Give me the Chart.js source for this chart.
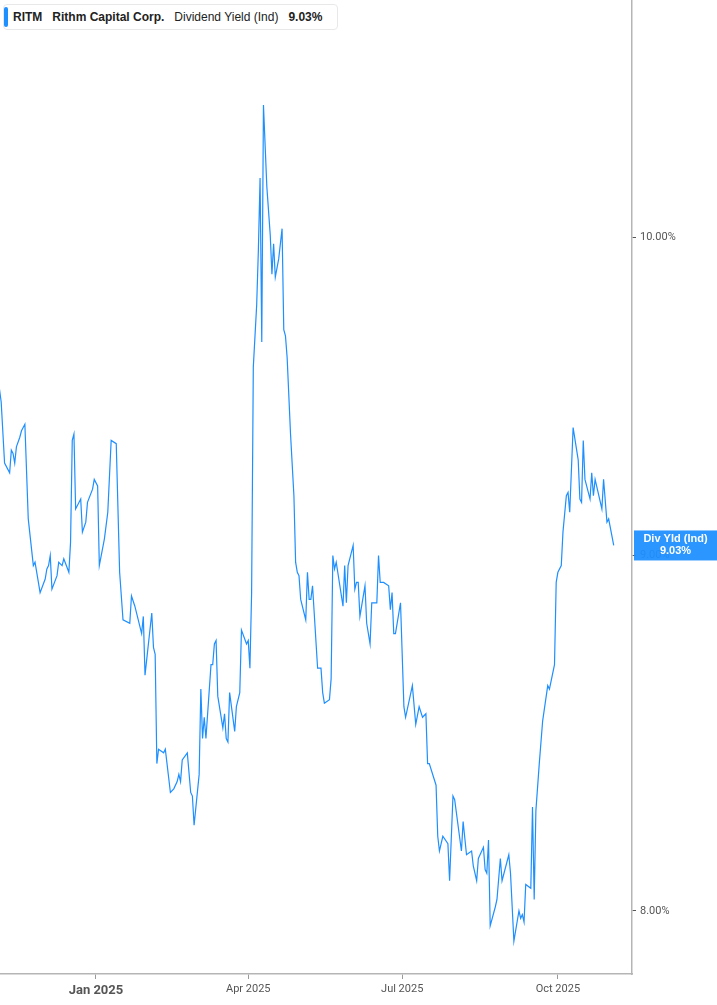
<!DOCTYPE html>
<html>
<head>
<meta charset="utf-8">
<script src="https://cdn.jsdelivr.net/npm/chart.js@4.4.1/dist/chart.umd.min.js"></script>
<style>
  html, body { margin: 0; padding: 0; background: #fff; }
  #wrap { position: relative; width: 717px; height: 1005px; }
  #legend {
    position: absolute; left: 3px; top: 4px; height: 26px; width: 335px;
    box-sizing: border-box; border: 1px solid #e8e8e8; border-radius: 4px;
    background: #fff; font-family: "Liberation Sans", Arial, sans-serif;
    font-size: 12px; color: #222; display: flex; align-items: center;
    white-space: nowrap;
  }
  #legend .bar { position: absolute; left: 0; top: 2px; bottom: 2px; width: 4px; background: #1e90ff; border-radius: 2px; }
  #legend span { margin-left: 10px; }
  #legend b { font-weight: bold; }
</style>
</head>
<body>
<div id="wrap">
  <canvas id="graph"></canvas>
  <div id="legend">
    <div class="bar"></div>
    <span style="margin-left:9px"><b>RITM</b></span>
    <span><b>Rithm Capital Corp.</b></span>
    <span>Dividend Yield (Ind)</span>
    <span><b>9.03%</b></span>
  </div>
</div>
<script>
// days counted from 2025-01-01 (negative = late 2024)
const days = [
  -57, -56, -54, -51, -50, -49, -48, -47, -45, -44, -42, -40, -37, -36, -33, -30, -29, -28, -27, -26,
  -23, -22, -20, -19, -16, -15, -14, -13, -12, -9, -8, -6, -5, -2, -1,
  1, 2, 5, 7, 9, 12, 14, 16, 20, 21, 23, 27, 28, 29, 33, 34, 35, 36, 37,
  40, 41, 43, 44, 46, 48, 49, 50, 51, 54, 56, 57, 58, 61, 62, 63, 64, 65, 68, 69,
  70, 71, 72, 75, 76, 77, 78, 79, 82, 83, 85, 86, 89, 90, 91, 92, 93, 95, 96, 97,
  98, 99, 101, 103, 104, 105, 106, 108, 110, 111, 112, 113, 115, 117, 118, 119, 120, 121, 124, 125, 126,
  127, 128, 131, 133, 134, 135, 138, 139, 140, 141, 142, 146, 147, 148, 149, 152, 153, 154, 155, 156,
  159, 160, 162, 163, 166, 167, 168, 170, 173, 174, 175, 176, 177, 180, 182, 183, 187, 189, 191, 193,
  195, 196, 197, 201, 202, 203, 205, 208, 209,
  211, 212, 216, 217, 219, 222, 223, 225, 226, 229, 230, 231, 232, 233, 236, 237, 239, 240, 244, 245,
  247, 250, 251, 252, 253, 254, 257, 258, 259, 260, 262, 264, 267, 268, 271, 272, 273, 275, 276, 278,
  279, 280, 282, 285, 286, 287, 288, 289, 292, 293, 294, 295, 299, 300, 302, 303, 306
];
const yields = [
  9.51, 9.47, 9.28, 9.25, 9.32, 9.31, 9.28, 9.33, 9.36, 9.38, 9.40, 9.11, 8.97, 8.98, 8.89, 8.93, 8.96, 8.97, 9.00, 8.90,
  8.94, 8.98, 8.97, 8.99, 8.95, 9.04, 9.35, 9.37, 9.14, 9.17, 9.07, 9.10, 9.16, 9.20, 9.23,
  9.21, 8.97, 9.05, 9.13, 9.35, 9.34, 8.95, 8.81, 8.80, 8.88, 8.85, 8.77, 8.82, 8.65, 8.83, 8.73, 8.71, 8.40, 8.44,
  8.43, 8.44, 8.36, 8.32, 8.33, 8.35, 8.37, 8.35, 8.41, 8.43, 8.32, 8.31, 8.23, 8.37, 8.61, 8.47, 8.53, 8.47, 8.68, 8.68,
  8.74, 8.75, 8.59, 8.50, 8.54, 8.47, 8.46, 8.60, 8.49, 8.56, 8.60, 8.78, 8.74, 8.75, 8.67, 8.89, 9.58, 9.78, 9.96, 10.20,
  9.66, 10.45, 10.17, 10.01, 9.88, 9.98, 9.87, 9.93, 10.03, 9.70, 9.68, 9.61, 9.37, 9.18, 8.98, 8.95, 8.94, 8.87, 8.81, 8.95, 8.87,
  8.87, 8.91, 8.67, 8.67, 8.60, 8.57, 8.58, 8.64, 9.00, 8.96, 8.98, 8.85, 8.97, 8.86, 8.97, 9.03, 8.90, 8.92, 8.92, 8.82,
  8.91, 8.80, 8.74, 8.86, 8.86, 9.00, 8.92, 8.92, 8.91, 8.84, 8.89, 8.77, 8.77, 8.86, 8.56, 8.53, 8.62, 8.51, 8.56, 8.53,
  8.54, 8.40, 8.40, 8.34, 8.20, 8.16, 8.20, 8.18, 8.08,
  8.31, 8.30, 8.16, 8.24, 8.15, 8.16, 8.12, 8.08, 8.14, 8.17, 8.11, 8.10, 8.19, 7.96, 8.01, 8.03, 8.14, 8.08, 8.15, 8.10,
  7.92, 8.00, 7.98, 7.99, 7.97, 8.07, 8.06, 8.28, 8.03, 8.27, 8.40, 8.52, 8.62, 8.61, 8.68, 8.92, 8.95, 8.97, 9.07, 9.18,
  9.19, 9.13, 9.39, 9.29, 9.17, 9.16, 9.35, 9.23, 9.17, 9.25, 9.18, 9.23, 9.14, 9.23, 9.10, 9.11, 9.03
];
const tickDays = [0, 90, 181, 273];
const tickLabels = ['Jan 2025', 'Apr 2025', 'Jul 2025', 'Oct 2025'];
const yTicks = [8, 9, 10];
const yMin = 7.834;
const yMax = 10.82;

const lineBlue = '#1e8fff';

// blue tag on the right axis with the last value
const lastTag = {
  id: 'lastTag',
  afterDraw(chart) {
    const ctx = chart.ctx;
    const last = yields[yields.length - 1];
    const yc = chart.scales.y.getPixelForValue(last);
    const x0 = chart.chartArea.right + 2;
    ctx.save();
    ctx.fillStyle = 'rgba(30,143,255,0.94)';
    ctx.fillRect(x0, yc - 15, chart.width - x0, 30);
    ctx.fillStyle = '#fff';
    ctx.font = 'bold 11px "Liberation Sans", Arial, sans-serif';
    ctx.textAlign = 'center';
    ctx.textBaseline = 'middle';
    const cx = x0 + (chart.width - x0) / 2;
    ctx.fillText('Div Yld (Ind)', cx, yc - 6);
    ctx.fillText(last.toFixed(2) + '%', cx, yc + 6);
    ctx.restore();
  }
};

new Chart(document.getElementById('graph').getContext('2d'), {
  type: 'line',
  data: {
    datasets: [{
      label: 'Div Yld (Ind)',
      data: days.map((d, i) => ({ x: d, y: yields[i] })),
      borderColor: lineBlue,
      borderWidth: 1.2,
      pointRadius: 0,
      tension: 0,
      fill: false
    }]
  },
  options: {
    responsive: true,
    maintainAspectRatio: false,
    animation: false,
    layout: { padding: 0 },
    plugins: {
      legend: { display: false },
      tooltip: { enabled: false }
    },
    scales: {
      x: {
        type: 'linear',
        min: -56.7,
        max: 316.8,
        afterBuildTicks: (scale) => { scale.ticks = tickDays.map(v => ({ value: v })); },
        afterFit: (scale) => { scale.height = 31; scale.paddingLeft = 0; scale.paddingRight = 0; },
        grid: { drawOnChartArea: false, drawTicks: true, tickLength: 5, color: '#9a9a9a' },
        border: { display: true, color: '#b5b5b5', width: 1.5 },
        ticks: {
          autoSkip: false,
          maxRotation: 0,
          padding: 4,
          color: '#555',
          font: (c) => (c.tick && c.tick.value === 0)
            ? { family: 'Roboto, sans-serif', size: 13, weight: 'bold' }
            : { family: 'Roboto, sans-serif', size: 11 },
          callback: (v) => tickLabels[tickDays.indexOf(v)]
        }
      },
      y: {
        type: 'logarithmic',
        position: 'right',
        bounds: 'data',
        min: yMin,
        max: yMax,
        afterBuildTicks: (scale) => {
          scale.ticks = yTicks.map(v => ({ value: v }));
          scale.min = yMin;
          scale.max = yMax;
        },
        afterFit: (scale) => { scale.width = 85; scale.paddingTop = 0; scale.paddingBottom = 0; },
        grid: { drawOnChartArea: false, drawTicks: true, tickLength: 4, color: '#555' },
        border: { display: true, color: '#b5b5b5', width: 1.5 },
        ticks: {
          padding: 4,
          color: '#555',
          font: { family: 'Roboto, sans-serif', size: 11 },
          callback: (v) => Number(v).toFixed(2) + '%'
        }
      }
    }
  },
  plugins: [lastTag]
});
</script>
</body>
</html>
